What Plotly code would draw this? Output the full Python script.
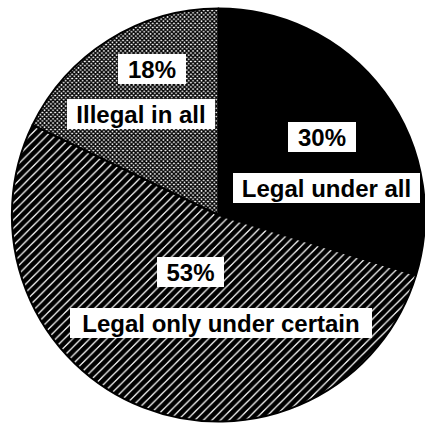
import math
import plotly.graph_objects as go

# ---- data ----
categories = ["Legal under all", "Legal only under certain", "Illegal in all"]
percent_labels = ["30%", "53%", "18%"]
values = [30, 53, 18]

# ---- style ----
W, H = 425, 427
dom_x = [0.028, 1.0]
dom_y = [0.012, 0.981]
label_frac = [0.6, 0.4, 0.7]                 # radial position of label group
pct_shift = [(4, 4), (2, 20), (10, 23)]      # px shift of percent box
lab_shift = [(8, -47), (33, -31), (-1, -22)]  # px shift of name box
pct_width = [68, 67, 68]
lab_width = [187, 302, 148]
box_h = 30
font = dict(family="Liberation Sans, Arial, sans-serif", size=24, color="black", weight="bold")

fig = go.Figure(go.Pie(
    labels=categories,
    values=values,
    sort=False,
    direction="clockwise",
    rotation=0,
    textinfo="none",
    hoverinfo="label+value",
    showlegend=False,
    domain=dict(x=dom_x, y=dom_y),
    marker=dict(
        colors=["black", "white", "white"],
        line=dict(color="black", width=2),
        pattern=dict(
            shape=["", "/", "x"],
            fgcolor=["black", "black", "black"],
            bgcolor=["black", "white", "white"],
            size=[6, 6, 3],
            solidity=[1, 0.8, 0.7],
        ),
    ),
))

# label positions derived from the slice angles
cx = (dom_x[0] + dom_x[1]) / 2 * W
cy = (1 - (dom_y[0] + dom_y[1]) / 2) * H
R = min((dom_x[1] - dom_x[0]) * W, (dom_y[1] - dom_y[0]) * H) / 2
total = sum(values)
start = 0.0
annotations = []
for i, v in enumerate(values):
    mid = math.radians((start + v / 2) / total * 360)
    start += v
    r = label_frac[i] * R
    px = cx + r * math.sin(mid)
    py = cy - r * math.cos(mid)
    xp, yp = px / W, 1 - py / H
    common = dict(x=xp, y=yp, xref="paper", yref="paper", xanchor="center", yanchor="middle",
                  showarrow=False, font=font, bgcolor="white", borderwidth=0, borderpad=0,
                  height=box_h)
    annotations.append(dict(common, text=percent_labels[i], width=pct_width[i],
                            xshift=pct_shift[i][0], yshift=pct_shift[i][1]))
    annotations.append(dict(common, text=categories[i], width=lab_width[i],
                            xshift=lab_shift[i][0], yshift=lab_shift[i][1]))

fig.update_layout(
    width=W, height=H,
    margin=dict(l=0, r=0, t=0, b=0),
    paper_bgcolor="white",
    plot_bgcolor="white",
    annotations=annotations,
)

fig.write_html(
    "out.html",
    config={"displayModeBar": False},
    post_script="document.body.style.margin='0';document.body.style.overflow='hidden';",
)
